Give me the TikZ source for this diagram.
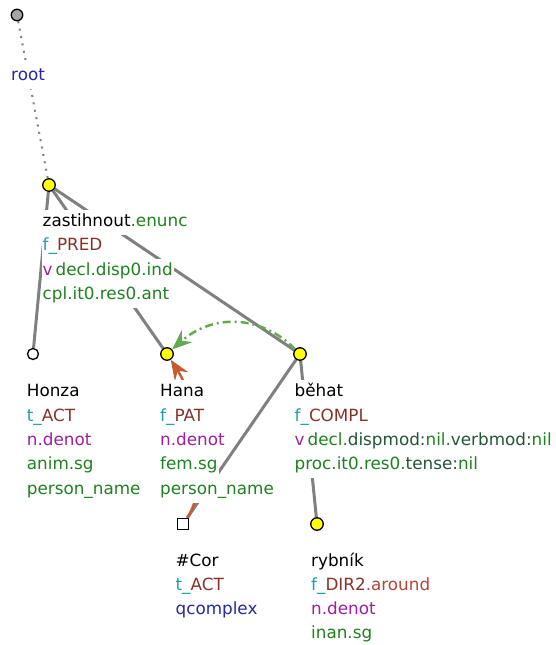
\documentclass[tikz,border=0pt]{standalone}
\usepackage{fontspec}
\setmainfont{DejaVu Sans}
\usetikzlibrary{arrows.meta}
\definecolor{cteal}{RGB}{30,160,170}
\definecolor{cbrown}{RGB}{135,50,40}
\definecolor{clbrown}{RGB}{180,70,55}
\definecolor{cpurple}{RGB}{160,30,160}
\definecolor{cgreen}{RGB}{30,130,30}
\definecolor{cdark}{RGB}{35,85,55}
\definecolor{cblue}{RGB}{40,40,160}
\definecolor{cgray}{RGB}{128,128,128}
\definecolor{cgreenarrow}{RGB}{100,170,80}
\definecolor{corange}{RGB}{200,90,50}
\definecolor{cyel}{RGB}{255,255,0}
\pgfdeclarelayer{edges}
\pgfdeclarelayer{labels}
\pgfsetlayers{edges,labels,main}
\begin{document}
\begin{tikzpicture}[x=1pt,y=-1pt,
  ynode/.style={circle,draw=black,fill=cyel,line width=1.3pt,minimum size=12.5pt,inner sep=0pt},
  wnode/.style={circle,draw=black,fill=white,line width=1.3pt,minimum size=11pt,inner sep=0pt},
  rootnode/.style={circle,draw=black,fill=black!35,line width=1.3pt,minimum size=11.5pt,inner sep=0pt},
  sqnode/.style={rectangle,draw=black,fill=white,line width=1.3pt,minimum size=11pt,inner sep=0pt},
  edge/.style={draw=cgray,line width=3pt},
  rootedge/.style={draw=cgray,line width=2pt,dash pattern=on 2pt off 5.5pt},
  compl/.style={draw=cgreenarrow,line width=2.5pt,dash pattern=on 8pt off 4pt on 2pt off 4pt,
     -{Stealth[length=20pt,width=16pt,inset=7pt]}},
  coref/.style={draw=corange,line width=2.5pt,
     -{Stealth[length=20pt,width=16pt,inset=7pt]}},
  lab/.style={anchor=base west,fill=white,inner xsep=1pt,inner ysep=4.5pt,
     text height=12pt,text depth=4pt,font=\fontsize{16.8pt}{20pt}\selectfont}
]
\useasboundingbox (0,0) rectangle (555,645);
% tree nodes
\node[rootnode] (root) at (17,15) {};
\node[ynode] (zast) at (49,185) {};
\node[wnode] (honza) at (33,354) {};
\node[ynode] (hana) at (167,354) {};
\node[ynode] (behat) at (300,354) {};
\node[sqnode] (cor) at (183,524) {};
\node[ynode] (rybnik) at (317,524) {};
% connectors
\begin{pgfonlayer}{edges}
\draw[rootedge] (root) -- (zast);
\draw[edge] (zast) -- (honza);
\draw[edge] (zast) -- (hana);
\draw[edge] (zast) -- (behat);
\draw[edge] (behat) -- (cor);
\draw[edge] (behat) -- (rybnik);
\draw[coref] (cor) .. controls (208,488) and (200,405) .. (hana);
\draw[compl] (behat) .. controls (260,314) and (212,314) .. (hana);
\end{pgfonlayer}
% labels
\begin{pgfonlayer}{labels}
\node[lab] (rootl) at (10,80) {\textcolor{cblue}{root}};
\node[lab] (zl1) at (41.5,226.5) {zastihnout\textcolor{cgreen}{.enunc}};
\node[lab] (zl2) at (41.5,250.8) {\textcolor{cteal}{f\_}\textcolor{cbrown}{PRED}};
\node[lab] (zl3) at (41.5,275.1) {\textcolor{cpurple}{v}\hspace{3pt}\textcolor{cgreen}{decl.disp0.ind}};
\node[lab] (zl4) at (41.5,299.4) {\textcolor{cgreen}{cpl.it0.res0.ant}};
\node[lab] (hol1) at (25.7,396.8) {Honza};
\node[lab] (hol2) at (25.7,421.1) {\textcolor{cteal}{t\_}\textcolor{cbrown}{ACT}};
\node[lab] (hol3) at (25.7,445.4) {\textcolor{cpurple}{n.denot}};
\node[lab] (hol4) at (25.7,469.7) {\textcolor{cgreen}{anim.sg}};
\node[lab] (hol5) at (25.7,494) {\textcolor{cgreen}{person\_name}};
\node[lab] (hal1) at (159,396.8) {Hana};
\node[lab] (hal2) at (159,421.1) {\textcolor{cteal}{f\_}\textcolor{cbrown}{PAT}};
\node[lab] (hal3) at (159,445.4) {\textcolor{cpurple}{n.denot}};
\node[lab] (hal4) at (159,469.7) {\textcolor{cgreen}{fem.sg}};
\node[lab] (hal5) at (159,494) {\textcolor{cgreen}{person\_name}};
\node[lab] (bl1) at (293.5,396.8) {běhat};
\node[lab] (bl2) at (293.5,421.1) {\textcolor{cteal}{f\_}\textcolor{cbrown}{COMPL}};
\node[lab] (bl3) at (293.5,445.4) {\textcolor{cpurple}{v}\hspace{3pt}\textcolor{cgreen}{decl.}\textcolor{cdark}{dispmod:}\textcolor{cgreen}{nil.}\textcolor{cdark}{verbmod:}\textcolor{cgreen}{nil}};
\node[lab] (bl4) at (293.5,469.7) {\textcolor{cgreen}{proc.it0.res0.}\textcolor{cdark}{tense:}\textcolor{cgreen}{nil}};
\node[lab] (cl1) at (174.4,566) {\#Cor};
\node[lab] (cl2) at (174.4,590.3) {\textcolor{cteal}{t\_}\textcolor{cbrown}{ACT}};
\node[lab] (cl3) at (174.4,614.6) {\textcolor{cblue}{qcomplex}};
\node[lab] (rl1) at (310,566) {rybník};
\node[lab] (rl2) at (310,590.3) {\textcolor{cteal}{f\_}\textcolor{cbrown}{DIR2}\textcolor{clbrown}{.around}};
\node[lab] (rl3) at (310,614.6) {\textcolor{cpurple}{n.denot}};
\node[lab] (rl4) at (310,638.9) {\textcolor{cgreen}{inan.sg}};
\end{pgfonlayer}
\end{tikzpicture}
\end{document}
